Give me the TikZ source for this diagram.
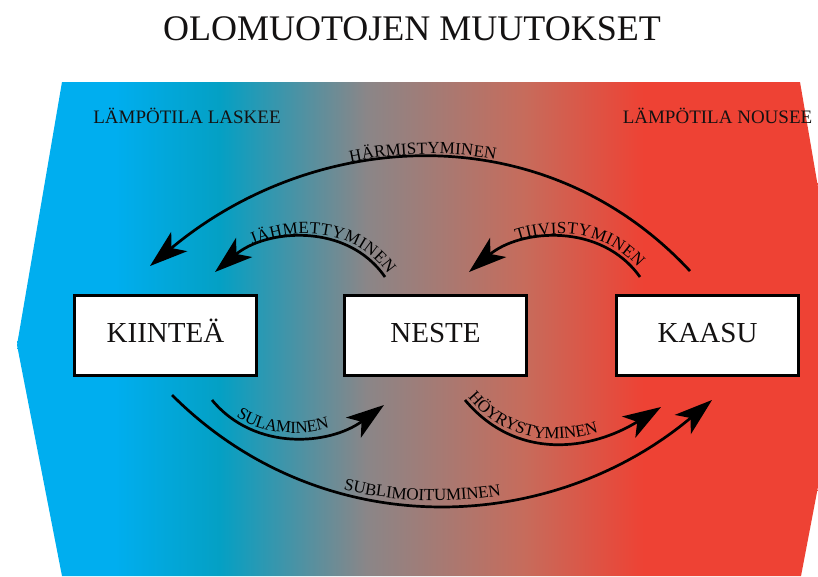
\documentclass[tikz,border=0pt]{standalone}
\usepackage{fontspec}
\setmainfont{Liberation Serif}
\usetikzlibrary{arrows.meta,decorations.text}
\definecolor{cb}{RGB}{0,174,239}
\definecolor{ct}{RGB}{4,160,196}
\definecolor{cg}{RGB}{138,134,136}
\definecolor{cr1}{RGB}{198,108,92}
\definecolor{cr}{RGB}{238,66,52}
\definecolor{ink}{RGB}{20,18,18}
\pgfdeclarehorizontalshading{bgshade}{100bp}{color(0bp)=(cb); color(31.76bp)=(cb); color(37.94bp)=(ct); color(46.53bp)=(cg); color(55.76bp)=(cr1); color(62.88bp)=(cr); color(100bp)=(cr)}
\newcommand\lblfont{\fontsize{17}{19}\selectfont}
\begin{document}
\begin{tikzpicture}[x=1pt,y=-1pt,
  box/.style={draw=black, fill=white, line width=3pt, minimum width=182pt, minimum height=80pt, inner sep=0pt, font=\fontsize{29}{32}\selectfont, text height=14pt, text depth=0pt, text=ink},
  conn/.style={line width=2.7pt, draw=black},
  >={Stealth[length=38pt,width=25pt,inset=10pt]},
  hint/.style={anchor=base, font=\fontsize{19}{22}\selectfont, text=ink}
]
\useasboundingbox (0,0) rectangle (818,576);
\begin{scope}
  \clip (0,0) rectangle (818,576);
  \clip (62,82) -- (800,82) -- (845,345) -- (801,576) -- (62,576) -- (17,345) -- cycle;
  \shade[shading=bgshade] (0,82) rectangle (850,576);
\end{scope}

\node[anchor=base, font=\fontsize{36}{40}\selectfont, text=ink] (title) at (412,40) {OLOMUOTOJEN MUUTOKSET};
\node[hint] (laskee) at (187,123) {LÄMPÖTILA LASKEE};
\node[hint] (nousee) at (717.5,123) {LÄMPÖTILA NOUSEE};

\node[box] (kiintea) at (165.5,335.5) {KIINTEÄ};
\node[box] (neste) at (435.5,335.5) {NESTE};
\node[box] (kaasu) at (707.5,335.5) {KAASU};

% HÄRMISTYMINEN (kaasu -> kiinteä)
\coordinate (h0) at (150,266); \coordinate (h1) at (315,128);
\coordinate (h2) at (544,114); \coordinate (h3) at (690,271);
\draw[conn,<-] (h0) .. controls (h1) and (h2) .. (h3);
\path[decorate, decoration={text along path, text={|\lblfont|HÄRMISTYMINEN}, text align=center, raise=4pt}] (h0) .. controls (h1) and (h2) .. (h3);

% JÄHMETTYMINEN (neste -> kiinteä)
\coordinate (j0) at (215,272); \coordinate (j1) at (266,229);
\coordinate (j2) at (347,222); \coordinate (j3) at (385,277);
\draw[conn,<-] (j0) .. controls (j1) and (j2) .. (j3);
\path[decorate, decoration={text along path, text={|\lblfont|JÄHMETTYMINEN}, text align=right, raise=4pt}] (j0) .. controls (j1) and (j2) .. (j3);

% TIIVISTYMINEN (kaasu -> neste)
\coordinate (t0) at (469,272); \coordinate (t1) at (520,229);
\coordinate (t2) at (601,222); \coordinate (t3) at (640,277);
\draw[conn,<-] (t0) .. controls (t1) and (t2) .. (t3);
\path[decorate, decoration={text along path, text={|\lblfont|TIIVISTYMINEN}, text align={right, right indent=8pt}, raise=4pt}] (t0) .. controls (t1) and (t2) .. (t3);

% SULAMINEN (kiinteä -> neste)
\coordinate (s0) at (212,400); \coordinate (s1) at (255,452);
\coordinate (s2) at (330,445); \coordinate (s3) at (384,405);
\draw[conn,->] (s0) .. controls (s1) and (s2) .. (s3);
\path[decorate, decoration={text along path, text={|\lblfont|SULAMINEN}, text align={center, right indent=30pt}, raise=4pt}] (s0) .. controls (s1) and (s2) .. (s3);

% HÖYRYSTYMINEN (neste -> kaasu)
\coordinate (y0) at (465,400); \coordinate (y1) at (517,462);
\coordinate (y2) at (592,450); \coordinate (y3) at (661,407);
\draw[conn,->] (y0) .. controls (y1) and (y2) .. (y3);
\path[decorate, decoration={text along path, text={|\lblfont|HÖYRYSTYMINEN}, text align=left, raise=4pt}] (y0) .. controls (y1) and (y2) .. (y3);

% SUBLIMOITUMINEN (kiinteä -> kaasu)
\coordinate (u0) at (172,395); \coordinate (u1) at (322,545);
\coordinate (u2) at (550,536); \coordinate (u3) at (712,400);
\draw[conn,->] (u0) .. controls (u1) and (u2) .. (u3);
\path[decorate, decoration={text along path, text={|\lblfont|SUBLIMOITUMINEN}, text align={center, right indent=36pt}, raise=4pt}] (u0) .. controls (u1) and (u2) .. (u3);
\end{tikzpicture}
\end{document}
